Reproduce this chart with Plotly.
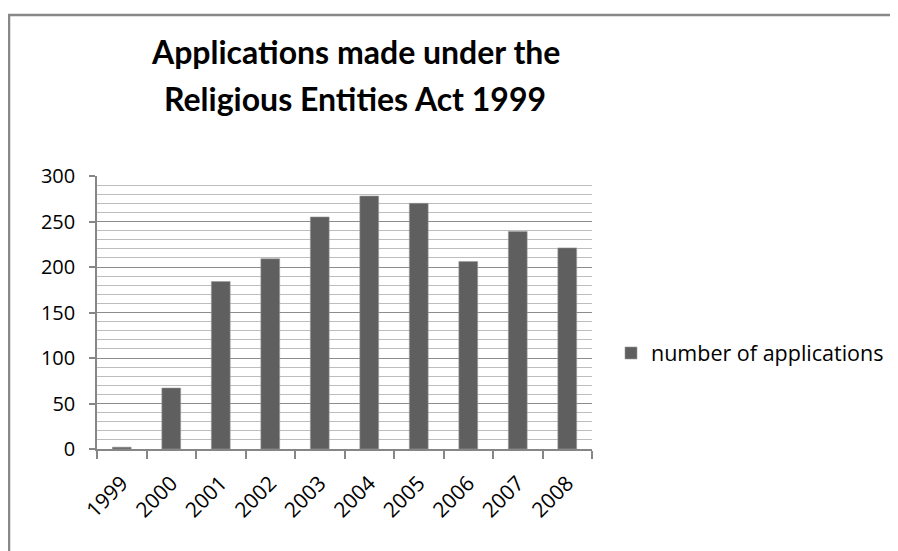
import plotly.graph_objects as go

years = ["1999", "2000", "2001", "2002", "2003", "2004", "2005", "2006", "2007", "2008"]
applications = [2, 67, 184, 209, 255, 278, 270, 206, 239, 221]
series_name = "number of applications"
title_lines = ["Applications made under the", "Religious Entities Act 1999"]

# page is offset by the 8px body margin, so the figure is 8px smaller
OFF = 8
W, H = 898 - OFF, 551 - OFF
L, R, T, B = 89, 306, 168, 102
pw, ph = W - L - R, H - T - B

def px_x(x):
    return (x - L) / pw

def px_y(y):
    return (H - B - y) / ph

FONT = "Open Sans"
TFONT = "Lato"

fig = go.Figure()
fig.add_trace(go.Bar(
    x=years, y=applications, name=series_name,
    marker=dict(color="#5f5f5f", line=dict(color="#9a9a9a", width=0.6)),
    showlegend=True,
))

border = "#888888"
shapes = [
    dict(type="line", xref="paper", yref="paper", x0=px_x(0), x1=px_x(W + 5), y0=px_y(7), y1=px_y(7),
         line=dict(color=border, width=2.5)),
    dict(type="line", xref="paper", yref="paper", x0=px_x(1), x1=px_x(1), y0=px_y(7), y1=px_y(H + 10),
         line=dict(color=border, width=2.5)),
]

annotations = [
    dict(text=title_lines[0], xref="paper", yref="paper", x=px_x(347), y=px_y(43),
         xanchor="center", yanchor="middle", showarrow=False,
         font=dict(family=TFONT, size=32, color="#000000", weight="bold")),
    dict(text=title_lines[1], xref="paper", yref="paper", x=px_x(347), y=px_y(91),
         xanchor="center", yanchor="middle", showarrow=False,
         font=dict(family=TFONT, size=32, color="#000000", weight="bold")),
]

fig.update_layout(
    width=W, height=H,
    margin=dict(l=L, r=R, t=T, b=B, autoexpand=False),
    paper_bgcolor="white", plot_bgcolor="white",
    font=dict(family=FONT, color="#000000", size=19),
    bargap=0.62,
    shapes=shapes,
    annotations=annotations,
    showlegend=True,
    legend=dict(x=px_x(603), y=px_y(345), xanchor="left", yanchor="middle",
                font=dict(family=FONT, size=21.5, color="#000000"), bgcolor="rgba(0,0,0,0)"),
    xaxis=dict(
        showline=True, linecolor="#868686", linewidth=1.5,
        ticks="outside", ticklen=8, tickcolor="#868686", tickwidth=1.5,
        tickson="boundaries", tickangle=-45, showgrid=False,
        tickfont=dict(family=FONT, size=21, color="#000000"),
        ticklabelstandoff=12,
    ),
    yaxis=dict(
        range=[0, 300], dtick=50, tick0=0,
        showline=True, linecolor="#868686", linewidth=1.5,
        ticks="outside", ticklen=6, tickcolor="#868686", tickwidth=1.5,
        showgrid=True, gridcolor="#8c8c8c", gridwidth=1,
        zeroline=False,
        minor=dict(dtick=10, showgrid=True, gridcolor="#bdbdbd", gridwidth=1),
        tickfont=dict(family=FONT, size=20, color="#000000"),
        ticklabelstandoff=10,
    ),
)

fig.write_html("out.html")
